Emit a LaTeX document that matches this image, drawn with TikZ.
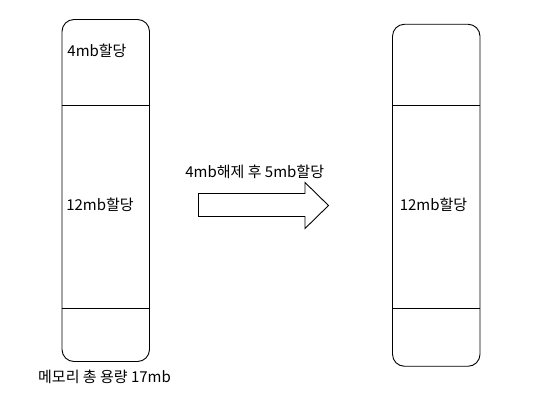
\documentclass[tikz,border=0pt]{standalone}
\usepackage{fontspec}
\setmainfont{Noto Sans CJK KR}
\tikzset{
  bar/.style={draw, rounded corners=12pt, minimum width=87.5pt, minimum height=342pt, inner sep=0pt},
  label/.style={font=\fontsize{15}{17}\selectfont, inner sep=0pt}
}
\begin{document}
\begin{tikzpicture}[x=1pt,y=-1pt,line width=0.9pt]
  \useasboundingbox (0,0) rectangle (534,402);
  % memory before
  \node[bar] (before) at (105.75,190.5) {};
  \draw (before.west |- 0,105) coordinate (b1) -- (before.east |- 0,105) coordinate (b2);
  \draw (before.west |- 0,308.5) coordinate (b3) -- (before.east |- 0,308.5) coordinate (b4);
  \node[label, anchor=west] (alloc4) at (67,51) {4mb할당};
  \node[label] (alloc12) at (100,205) {12mb할당};
  \node[label] (total) at (104.5,377) {메모리 총 용량 17mb};
  % memory after
  \node[bar] (after) at (436.25,195.25) {};
  \draw (after.west |- 0,105) coordinate (a1) -- (after.east |- 0,105) coordinate (a2);
  \draw (after.west |- 0,308.5) coordinate (a3) -- (after.east |- 0,308.5) coordinate (a4);
  \node[label] (kept12) at (433.5,205) {12mb할당};
  % arrow
  \draw (198.5,193.5) -- (305,193.5) -- (305,182.5) -- (328.5,205.5)
    -- (305,228.5) -- (305,216.5) -- (198.5,216.5) -- cycle;
  \node[label] (step) at (254.7,172) {4mb해제 후 5mb할당};
\end{tikzpicture}
\end{document}
